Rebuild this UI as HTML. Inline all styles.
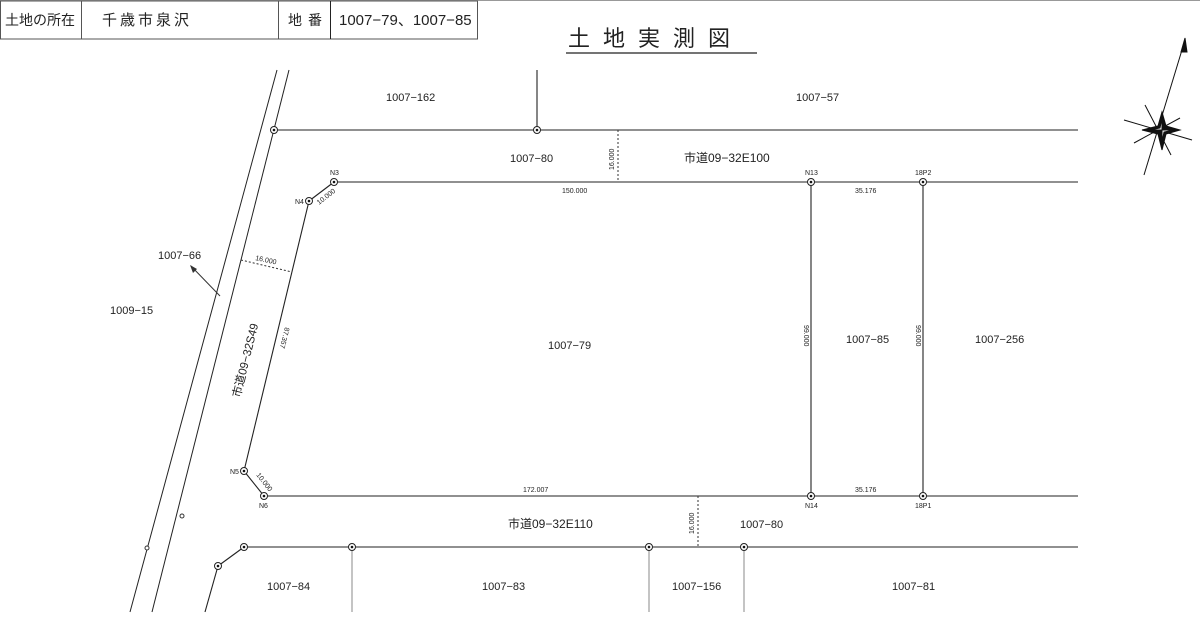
<!DOCTYPE html>
<html><head><meta charset="utf-8"><style>
html,body{margin:0;padding:0;background:#fff;}
svg{display:block;}
text{font-family:"Liberation Sans","Noto Sans CJK JP",sans-serif;fill:#222;}
</style></head><body>
<svg width="1200" height="619" viewBox="0 0 1200 619" xmlns="http://www.w3.org/2000/svg">
<line x1="0" y1="0.5" x2="1200" y2="0.5" stroke="#999" stroke-width="1"/>
<g stroke="#555" stroke-width="1" fill="none">
<rect x="0.5" y="1" width="477" height="38"/>
<line x1="81.5" y1="1" x2="81.5" y2="39"/>
<line x1="278.5" y1="1" x2="278.5" y2="39"/>
<line x1="330.5" y1="1" x2="330.5" y2="39" stroke="#222"/>
</g>
<text x="5" y="25" font-size="14">土地の所在</text>
<text x="102" y="25" font-size="15" letter-spacing="3">千歳市泉沢</text>
<text x="288" y="25" font-size="14" letter-spacing="6">地番</text>
<text x="339" y="25" font-size="15">1007−79、1007−85</text>
<text x="568" y="46" font-size="22" letter-spacing="13">土地実測図</text>
<line x1="566" y1="53" x2="757" y2="53" stroke="#222" stroke-width="1.2"/>
<g stroke="#111" stroke-width="1" fill="#111">
<line x1="1144" y1="175" x2="1185" y2="40"/>
<polygon points="1185,38 1181,52 1187,52"/>
<line x1="1124" y1="120" x2="1192" y2="140"/>
<line x1="1145" y1="105" x2="1171" y2="155"/>
<line x1="1180" y1="118" x2="1134" y2="143"/>
<polygon points="1162,112 1166,126 1180,130 1166,134 1162,150 1158,134 1142,130 1158,126" fill="#111"/>
<polygon points="1162,118 1164,128 1174,130 1164,132 1162,142 1160,132 1150,130 1160,128" fill="#fff"/>
<polygon points="1162,130 1162,118 1164,128 1174,130" fill="#111"/>
<polygon points="1162,130 1162,142 1160,132 1150,130" fill="#111"/>
</g>
<g stroke="#222" stroke-width="1" fill="none">
<line x1="277" y1="70" x2="130" y2="612"/>
<line x1="289" y1="70" x2="152" y2="612"/>
</g>
<circle cx="147" cy="548" r="2" fill="#fff" stroke="#333"/>
<circle cx="182" cy="516" r="2" fill="#fff" stroke="#333"/>
<g stroke="#222" stroke-width="1.1" fill="none">
<line x1="274" y1="130" x2="1078" y2="130"/>
<line x1="537" y1="70" x2="537" y2="130"/>
<line x1="334" y1="182" x2="1078" y2="182"/>
<line x1="334" y1="182" x2="309" y2="201"/>
<line x1="309" y1="201" x2="244" y2="471"/>
<line x1="244" y1="471" x2="264" y2="496"/>
<line x1="264" y1="496" x2="1078" y2="496"/>
<line x1="811" y1="182" x2="811" y2="496"/>
<line x1="923" y1="182" x2="923" y2="496"/>
<line x1="244" y1="547" x2="1078" y2="547"/>
<line x1="244" y1="547" x2="218" y2="566"/>
<line x1="218" y1="566" x2="205" y2="612"/>
</g>
<g stroke="#888" stroke-width="1">
<line x1="352" y1="547" x2="352" y2="612"/>
<line x1="649" y1="547" x2="649" y2="612"/>
<line x1="744" y1="547" x2="744" y2="612"/>
</g>
<g stroke="#333" stroke-width="1" stroke-dasharray="2,2">
<line x1="618" y1="130" x2="618" y2="182"/>
<line x1="698" y1="496" x2="698" y2="547"/>
<line x1="241" y1="260" x2="292" y2="272"/>
</g>
<line x1="220" y1="296" x2="191" y2="266" stroke="#333"/>
<polygon points="190,265 193,273 197,269" fill="#333"/>
<g fill="#fff" stroke="#222" stroke-width="1">
<circle cx="274" cy="130" r="3.5"/><circle cx="537" cy="130" r="3.5"/>
<circle cx="334" cy="182" r="3.5"/><circle cx="309" cy="201" r="3.5"/>
<circle cx="244" cy="471" r="3.5"/><circle cx="264" cy="496" r="3.5"/>
<circle cx="811" cy="182" r="3.5"/><circle cx="923" cy="182" r="3.5"/>
<circle cx="811" cy="496" r="3.5"/><circle cx="923" cy="496" r="3.5"/>
<circle cx="244" cy="547" r="3.5"/><circle cx="218" cy="566" r="3.5"/>
<circle cx="352" cy="547" r="3.5"/><circle cx="649" cy="547" r="3.5"/>
<circle cx="744" cy="547" r="3.5"/>
</g>
<g fill="#111">
<circle cx="274" cy="130" r="1.3"/><circle cx="537" cy="130" r="1.3"/>
<circle cx="334" cy="182" r="1.3"/><circle cx="309" cy="201" r="1.3"/>
<circle cx="244" cy="471" r="1.3"/><circle cx="264" cy="496" r="1.3"/>
<circle cx="811" cy="182" r="1.3"/><circle cx="923" cy="182" r="1.3"/>
<circle cx="811" cy="496" r="1.3"/><circle cx="923" cy="496" r="1.3"/>
<circle cx="244" cy="547" r="1.3"/><circle cx="218" cy="566" r="1.3"/>
<circle cx="352" cy="547" r="1.3"/><circle cx="649" cy="547" r="1.3"/>
<circle cx="744" cy="547" r="1.3"/>
</g>
<g font-size="7">
<text x="330" y="175">N3</text><text x="295" y="204">N4</text>
<text x="230" y="474">N5</text><text x="259" y="508">N6</text>
<text x="805" y="175">N13</text><text x="915" y="175">18P2</text>
<text x="805" y="508">N14</text><text x="915" y="508">18P1</text>
<text x="562" y="193">150.000</text><text x="523" y="492">172.007</text>
<text x="855" y="193">35.176</text><text x="855" y="492">35.176</text>
<text transform="translate(319,205) rotate(-38)">10.000</text>
<text transform="translate(256,475) rotate(52)">10.000</text>
<text transform="translate(255,260) rotate(12)">16.000</text>
<text transform="translate(285,327) rotate(104)">87.357</text>
<text transform="translate(614,170) rotate(-90)">16.000</text>
<text transform="translate(694,534) rotate(-90)">16.000</text>
<text transform="translate(804,325) rotate(90)">99.000</text>
<text transform="translate(916,325) rotate(90)">99.000</text>
</g>
<g font-size="11">
<text x="386" y="101">1007−162</text>
<text x="796" y="101">1007−57</text>
<text x="510" y="162">1007−80</text>
<text x="684" y="162" font-size="12">市道09−32E100</text>
<text x="158" y="259">1007−66</text>
<text x="110" y="314">1009−15</text>
<text x="548" y="349">1007−79</text>
<text x="846" y="343">1007−85</text>
<text x="975" y="343">1007−256</text>
<text x="508" y="528" font-size="12">市道09−32E110</text>
<text x="740" y="528">1007−80</text>
<text x="267" y="590">1007−84</text>
<text x="482" y="590">1007−83</text>
<text x="672" y="590">1007−156</text>
<text x="892" y="590">1007−81</text>
<text transform="translate(240,398) rotate(-76)" font-size="11.5">市道09−32S49</text>
</g>
</svg>
</body></html>
